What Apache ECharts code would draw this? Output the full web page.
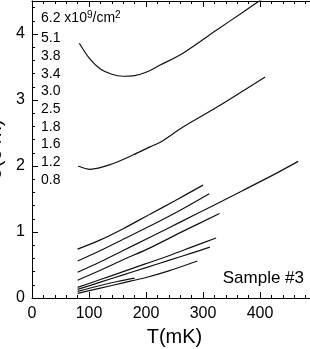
<!DOCTYPE html>
<html><head><meta charset="utf-8">
<script src="https://cdn.jsdelivr.net/npm/echarts@6/dist/echarts.min.js"></script>
<style>html,body{margin:0;padding:0;background:#fff}#c{width:310px;height:349px}</style>
</head><body><div id="c"></div><script>
// Density labels (x10^9/cm^2), top to bottom
const densityLabels = ['6.2', '5.1', '3.8', '3.4', '3.0', '2.5', '1.8', '1.6', '1.2', '0.8'];
// Curves: [T (mK), sigma (e^2/h)]
const s62 = [[83,3.86],[100,3.64],[120,3.47],[140,3.39],[160,3.36],[180,3.37],[200,3.42],[225,3.53],[265,3.71],[324,4.06],[370,4.33],[402,4.52]];
const s51 = [[81,2.0],[102,1.95],[137,2.02],[178,2.17],[207,2.29],[225,2.36],[265,2.59],[324,2.89],[409,3.35]];
const s38 = [[80,0.74],[120,0.88],[160,1.05],[207,1.27],[250,1.47],[300,1.71]];
const s34 = [[80,0.56],[120,0.72],[160,0.89],[207,1.09],[260,1.33],[311,1.58]];
const s30 = [[80,0.39],[120,0.55],[160,0.72],[207,0.92],[260,1.15],[320,1.41],[370,1.63],[420,1.85],[467,2.07]];
const s25 = [[80,0.27],[120,0.42],[160,0.58],[207,0.76],[260,0.99],[329,1.28]];
const s18 = [[80,0.16],[120,0.28],[160,0.40],[200,0.52],[240,0.64],[280,0.77],[323,0.91]];
const s16 = [[80,0.13],[120,0.24],[160,0.35],[200,0.46],[240,0.57],[280,0.68],[312,0.77]];
const s12 = [[80,0.10],[120,0.19],[150,0.25],[180,0.30]];
const s08 = [[80,0.07],[120,0.15],[160,0.23],[200,0.31],[240,0.41],[290,0.56]];
const curves = [s62, s51, s38, s34, s30, s25, s18, s16, s12, s08];
const xTicks = [0, 100, 200, 300, 400];
const yTicks = [0, 1, 2, 3, 4];

const FONT = 'Liberation Sans, Arial, sans-serif';
const chart = echarts.init(document.getElementById('c'), null, {renderer: 'canvas'});

const axisCommon = {
  axisLine: {show: true, lineStyle: {color: '#000', width: 1}},
  axisTick: {show: true, inside: true, length: 6, lineStyle: {color: '#000', width: 1}},
  minorTick: {show: true, splitNumber: 5, length: 3, lineStyle: {color: '#000', width: 1}},
  splitLine: {show: false},
  minorSplitLine: {show: false}
};

const labelTexts = densityLabels.map((d, i) => ({
  type: 'text',
  x: 41,
  y: i === 0 ? 18.5 : 38.3 + (i - 1) * 17.7,
  style: {
    text: i === 0 ? d + ' x10{sup|9}/cm{sup|2}' : d,
    font: '14px ' + FONT,
    fill: '#000',
    align: 'left',
    verticalAlign: 'middle',
    rich: {sup: {fontSize: 10, fontFamily: FONT, verticalAlign: 'top', padding: [0, 0, 7, 0]}}
  }
}));

chart.setOption({
  animation: false,
  backgroundColor: '#fff',
  grid: {left: 32, right: -7, top: 1, bottom: 51, containLabel: false, outerBoundsMode: 'none'},
  xAxis: [
    Object.assign({
      type: 'value', min: 0, max: 500, interval: 100, position: 'bottom',
      name: 'T(mK)', nameLocation: 'middle', nameGap: 29,
      nameTextStyle: {fontSize: 20, fontFamily: FONT, color: '#000'},
      axisLabel: {fontSize: 16, fontFamily: FONT, color: '#000', margin: 8,
        formatter: v => xTicks.includes(v) ? String(v) : ''}
    }, axisCommon),
    Object.assign({
      type: 'value', min: 0, max: 500, interval: 100, position: 'top',
      axisLabel: {show: false}
    }, axisCommon)
  ],
  yAxis: [
    Object.assign({
      type: 'value', min: 0, max: 4.5, interval: 1,
      name: 'σ(e²/h)', nameLocation: 'middle', nameRotate: 90, nameGap: 15,
      nameTextStyle: {fontSize: 20, fontFamily: FONT, color: '#000'},
      axisLabel: {fontSize: 16, fontFamily: FONT, color: '#000', margin: 7,
        formatter: v => yTicks.includes(v) ? String(v) : ''}
    }, axisCommon)
  ],
  series: curves.map(c => ({
    type: 'line', data: c, smooth: 0.3, symbol: 'none', clip: true,
    lineStyle: {color: '#111', width: 1.2}
  })),
  graphic: labelTexts.concat([{
    type: 'text', right: 6, top: 270,
    style: {text: 'Sample #3', font: '17px ' + FONT, fill: '#000'}
  }])
});
</script></body></html>
